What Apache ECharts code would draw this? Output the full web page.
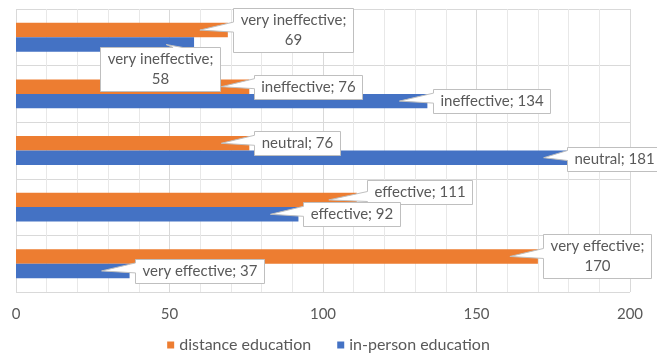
<!DOCTYPE html>
<html>
<head>
<meta charset="utf-8">
<script src="https://cdn.jsdelivr.net/npm/echarts@6/dist/echarts.min.js"></script>
<style>
  html, body { margin: 0; padding: 0; background: #fff; }
  #chart { width: 657px; height: 357px; }
</style>
</head>
<body>
<div id="chart"></div>
<script>
// Ratings, listed top to bottom
const categories = ['very ineffective', 'ineffective', 'neutral', 'effective', 'very effective'];
const seriesNames = ['distance education', 'in-person education'];
const distanceValues = [69, 76, 76, 111, 170];
const inPersonValues = [58, 134, 181, 92, 37];
const axisMin = 0;
const axisMax = 200;
const axisStep = 50;

const colors = ['#ED7D31', '#4472C4'];
const textColor = '#595959';
const fontFamily = 'Lato, "Open Sans", sans-serif';
const fontSize = 15;

// Callout box placement: [box left relative to bar end, box centre y relative to bar centre]
const calloutPlacement = [
  [[5, 0], [5, 0], [5, 0], [10, -8], [5, 0]],
  [[-94, 24], [6, 0], [-5, 1], [5, 0], [5, 0]]
];
// Callout texts that wrap onto two lines
const wrapped = [
  [true, false, false, false, true],
  [true, false, false, false, false]
];

const measureCtx = document.createElement('canvas').getContext('2d');
measureCtx.font = fontSize + 'px ' + fontFamily;

const valueSets = [distanceValues, inPersonValues];
const calloutData = [];
valueSets.forEach(function (vals, si) {
  vals.forEach(function (v, ci) { calloutData.push([v, ci, si]); });
});

const barGapRatio = 0.49; // share of each band left empty

function renderCallout(params, api) {
  const v = api.value(0), ci = api.value(1), si = api.value(2);
  const p = api.coord([v, ci]);
  const band = api.size([0, 1])[1];
  const barH = band * (1 - barGapRatio) / 2;
  const barY = p[1] + (si === 0 ? -0.5 : 0.5) * barH;
  const place = calloutPlacement[si][ci];
  const lines = wrapped[si][ci]
    ? [categories[ci] + ';', String(v)]
    : [categories[ci] + '; ' + v];
  let tw = 0;
  lines.forEach(function (l) { tw = Math.max(tw, measureCtx.measureText(l).width); });
  const lineH = 20;
  const w = Math.round(tw + 14);
  const h = lines.length * lineH + 4;
  const L = Math.round(p[0] + place[0]) + 0.5;
  const cy = barY + place[1];
  const T = Math.round(cy - h / 2) + 0.5;
  const R = L + w, B = T + h;
  const tip = [p[0] - 28, barY];
  const hw = 5;
  let pts;
  if (tip[0] < L) {
    const c = Math.min(Math.max(tip[1] - 3, T + hw + 3), B - hw - 3);
    pts = [[L, T], [R, T], [R, B], [L, B], [L, c + hw], tip, [L, c - hw]];
  } else if (tip[1] < T) {
    const c = Math.min(Math.max(tip[0] + 12, L + hw + 3), R - hw - 3);
    pts = [[L, T], [c - hw, T], tip, [c + hw, T], [R, T], [R, B], [L, B]];
  } else {
    const c = Math.min(Math.max(tip[0], L + hw + 3), R - hw - 3);
    pts = [[L, T], [R, T], [R, B], [c + hw, B], tip, [c - hw, B], [L, B]];
  }
  return {
    type: 'group',
    children: [
      {
        type: 'polygon',
        shape: { points: pts },
        style: { fill: '#ffffff', stroke: '#bfbfbf', lineWidth: 1 }
      },
      {
        type: 'text',
        x: (L + R) / 2,
        y: (T + B) / 2,
        style: {
          text: lines.join('\n'),
          fill: textColor,
          font: fontSize + 'px ' + fontFamily,
          align: 'center',
          verticalAlign: 'middle',
          lineHeight: lineH
        }
      }
    ]
  };
}

const chart = echarts.init(document.getElementById('chart'), null, { renderer: 'canvas' });
chart.setOption({
  animation: false,
  textStyle: { fontFamily: fontFamily },
  grid: { left: 16, right: 27, top: 9, bottom: 65, containLabel: false },
  legend: {
    data: seriesNames,
    bottom: -1,
    left: 'center',
    icon: 'rect',
    itemWidth: 7,
    itemHeight: 7,
    itemGap: 26,
    textStyle: { color: textColor, fontSize: 16, fontFamily: fontFamily }
  },
  xAxis: {
    type: 'value',
    min: axisMin,
    max: axisMax,
    interval: axisStep,
    axisLine: { show: false },
    axisTick: { show: false },
    axisLabel: { color: textColor, fontSize: 15, margin: 15 },
    splitLine: { show: true, lineStyle: { color: '#d9d9d9', width: 1 } },
    minorTick: { show: false, splitNumber: 5 },
    minorSplitLine: { show: true, lineStyle: { color: '#e8e8e8', width: 1 } }
  },
  yAxis: {
    type: 'category',
    data: categories,
    inverse: true,
    axisLine: { show: false },
    axisTick: { show: false },
    axisLabel: { show: false },
    splitLine: { show: true, lineStyle: { color: '#d9d9d9', width: 1 } }
  },
  series: [
    {
      name: seriesNames[0],
      type: 'bar',
      data: distanceValues,
      itemStyle: { color: colors[0] },
      barGap: '0%',
      barCategoryGap: '49%'
    },
    {
      name: seriesNames[1],
      type: 'bar',
      data: inPersonValues,
      itemStyle: { color: colors[1] },
      barGap: '0%',
      barCategoryGap: '49%'
    },
    {
      type: 'custom',
      renderItem: renderCallout,
      data: calloutData,
      encode: { x: 0, y: 1 },
      clip: false,
      silent: true,
      z: 10
    }
  ]
});
</script>
</body>
</html>
